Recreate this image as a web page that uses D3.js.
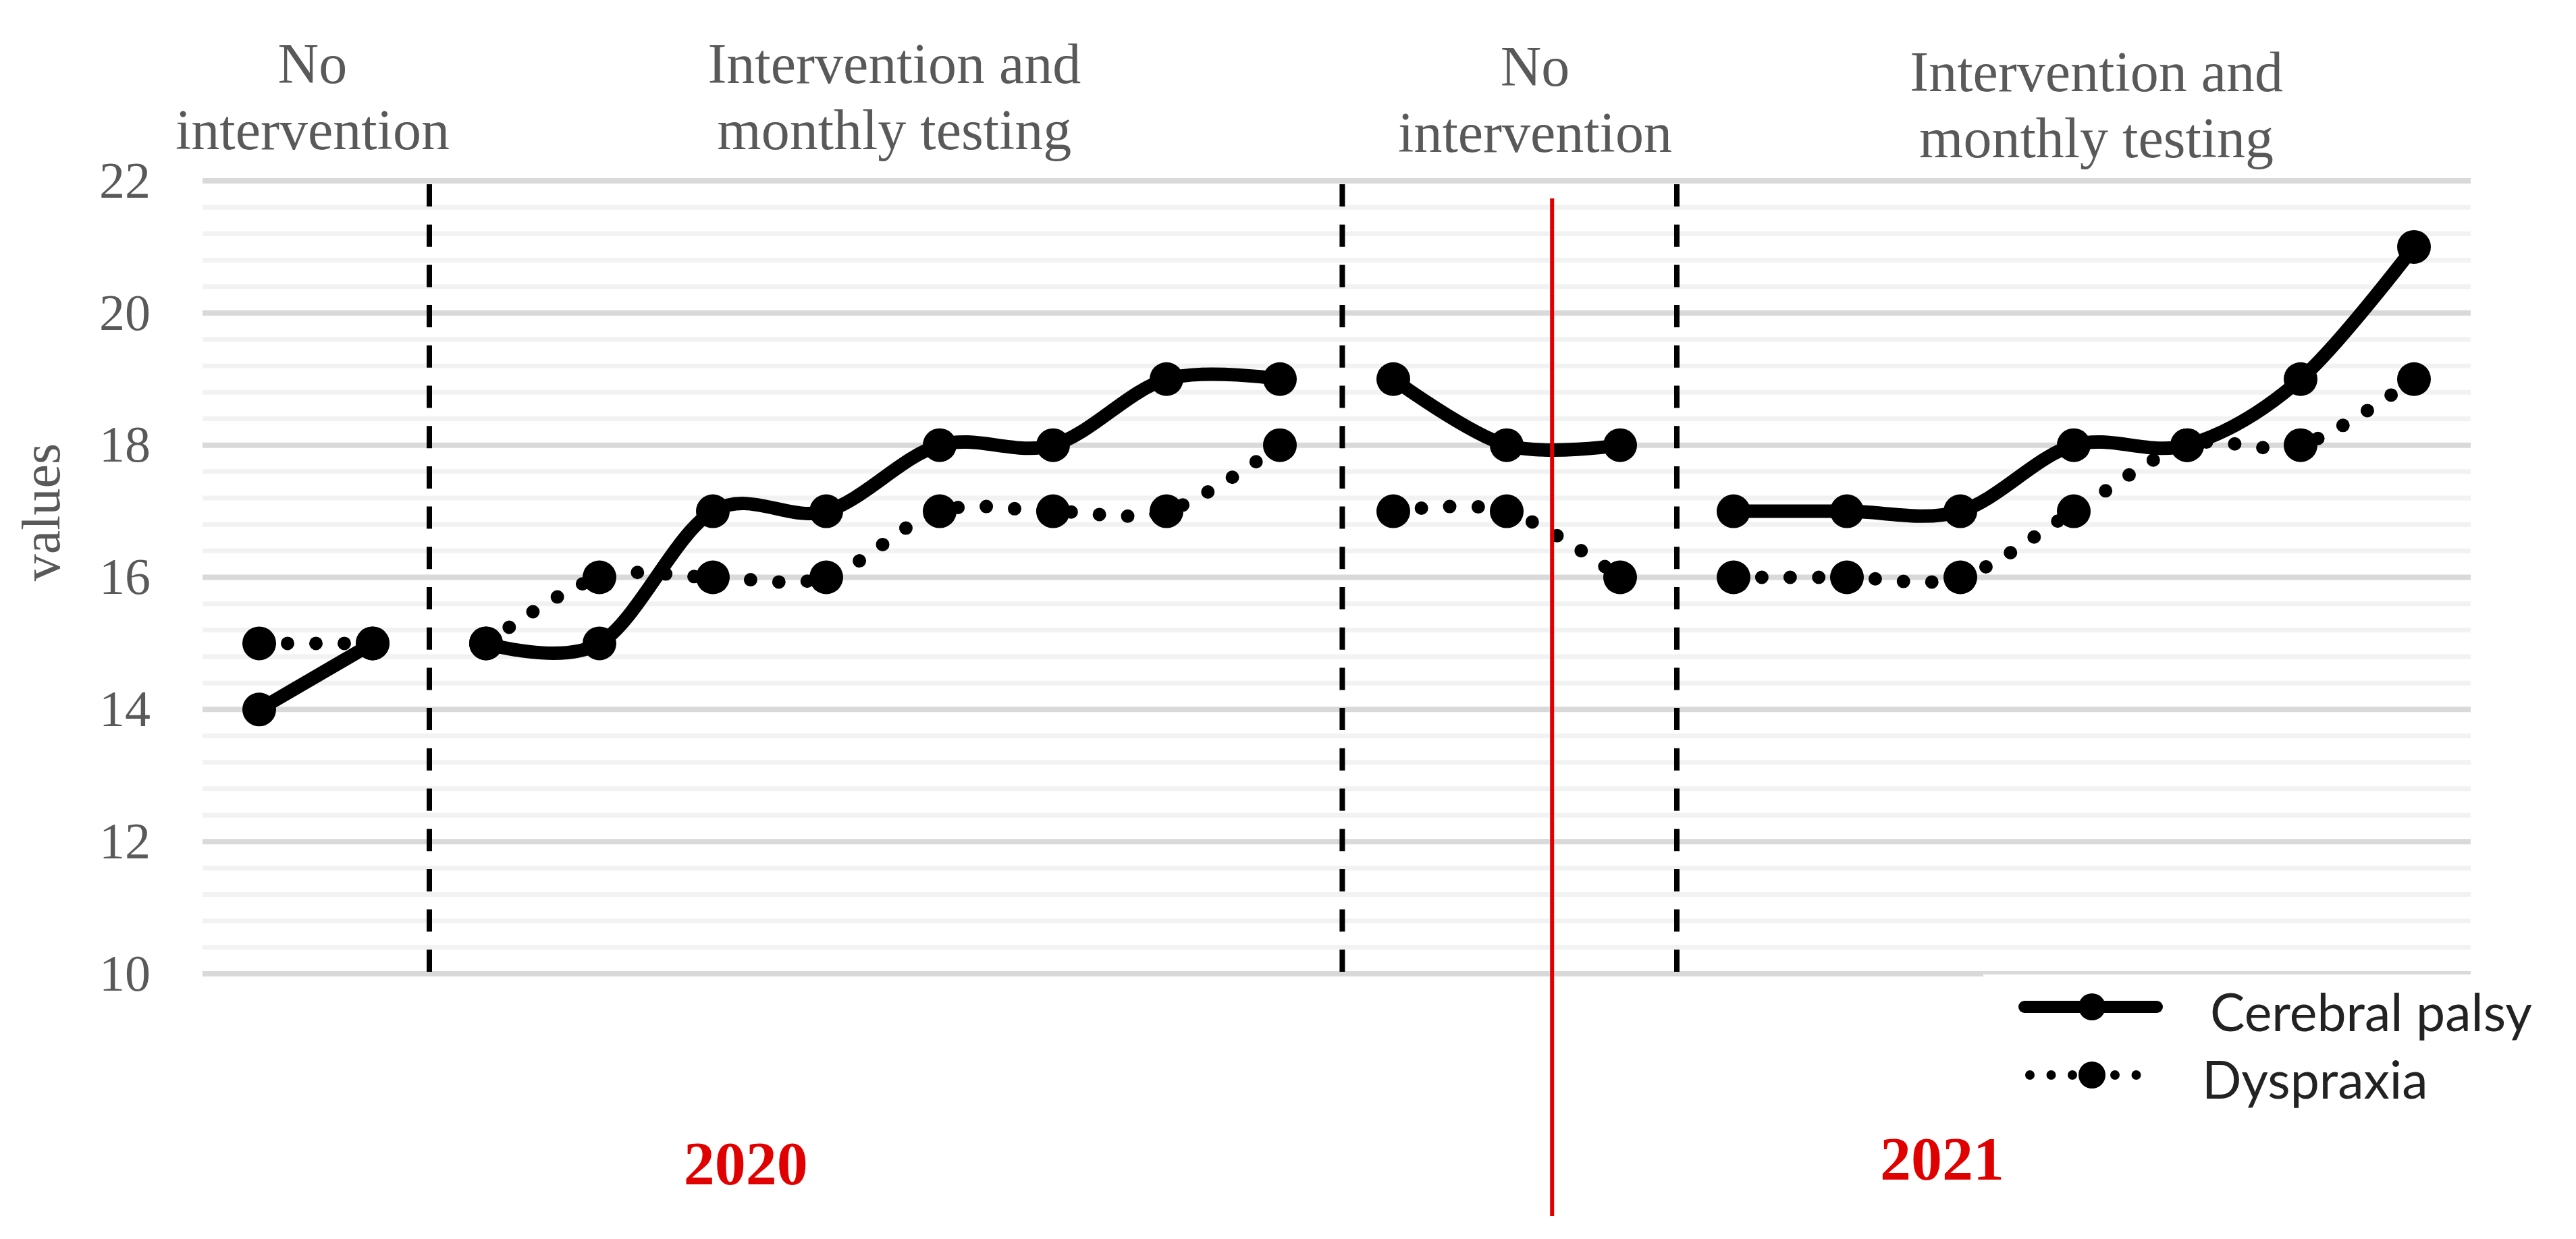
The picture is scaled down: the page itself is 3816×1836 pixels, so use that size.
<!DOCTYPE html>
<html>
<head>
<meta charset="utf-8">
<script src="https://cdnjs.cloudflare.com/ajax/libs/d3/7.8.5/d3.min.js"></script>
<style>
  html, body { margin: 0; padding: 0; background: #ffffff; }
  svg { display: block; }
</style>
</head>
<body>
<svg id="chart" width="3816" height="1836"></svg>
<script>
// donnees
var sessions = [1,2,3,4,5,6,7,8,9,10,11,12,13,14,15,16,17,18,19,20];
var phaseOf  = [0,0,1,1,1,1,1,1,1,1,2,2,2,3,3,3,3,3,3,3];
var cerebralPalsy = [14,15,15,15,17,17,18,18,19,19,19,18,18,17,17,17,18,18,19,21];
var dyspraxia     = [15,15,15,16,16,16,17,17,17,18,17,17,16,16,16,16,17,18,18,19];
var phaseTitles = [["No","intervention"],["Intervention and","monthly testing"],["No","intervention"],["Intervention and","monthly testing"]];
var yTicks = [10,12,14,16,18,20,22];
var years = ["2020","2021"];
var legendNames = ["Cerebral palsy","Dyspraxia"];

// mise en page (en unites de l'axe x : indice de seance)
var phaseBreaks = [1.5, 9.55, 12.5];
var yearBreak = 11.4;
var titlePos = [0.47, 5.6, 11.25, 16.2];
var titleBase = [123, 123, 127, 135];
var yearPos = [4.29, 14.84];
var yearBase = [1755, 1748];

var svg = d3.select("#chart");
svg.append("rect").attr("width",3816).attr("height",1836).attr("fill","#ffffff");

var x = d3.scaleLinear().domain([-0.5, sessions.length - 0.5]).range([300, 3660]);
var y = d3.scaleLinear().domain([10, 22]).range([1443, 268]);

// grille
var grid = svg.append("g");
var fins = d3.range(0, 31).map(function(i){ return 10 + i*0.4; });
grid.selectAll("line.mineur").data(fins.filter(function(v,i){ return i%5 != 0; }))
  .enter().append("line").attr("class","mineur")
  .attr("x1", x.range()[0]).attr("x2", x.range()[1])
  .attr("y1", function(d){ return y(d); }).attr("y2", function(d){ return y(d); })
  .attr("stroke","#f2f2f2").attr("stroke-width",7);
grid.selectAll("line.majeur").data(yTicks)
  .enter().append("line").attr("class","majeur")
  .attr("x1", x.range()[0]).attr("x2", x.range()[1])
  .attr("y1", function(d){ return y(d); }).attr("y2", function(d){ return y(d); })
  .attr("stroke","#d9d9d9").attr("stroke-width",8);

// axe y
var axe = svg.append("g").attr("transform","translate(300,0)")
  .call(d3.axisLeft(y).tickValues(yTicks).tickSize(0).tickPadding(77));
axe.select(".domain").remove();
axe.selectAll("text").attr("font-family","'Liberation Serif', 'Times New Roman', serif")
  .attr("font-size",76).attr("fill","#595959");

svg.append("text").attr("transform","translate(88,759) rotate(-90)")
  .attr("text-anchor","middle").attr("font-family","'Liberation Serif', serif")
  .attr("font-size",80).attr("fill","#595959").text("values");

// separations des phases
svg.selectAll("line.phase").data(phaseBreaks).enter().append("line").attr("class","phase")
  .attr("x1", function(d){ return x(d); }).attr("x2", function(d){ return x(d); })
  .attr("y1", 273).attr("y2", 1440)
  .attr("stroke","#000000").attr("stroke-width",8).attr("stroke-dasharray","33 26.7");

// titres des phases
phaseTitles.forEach(function(t, i){
  var tx = svg.append("text").attr("text-anchor","middle")
    .attr("font-family","'Liberation Serif', 'Times New Roman', serif")
    .attr("font-size",84).attr("fill","#595959");
  t.forEach(function(l, j){
    tx.append("tspan").attr("x", x(titlePos[i])).attr("y", titleBase[i] + j*98).text(l);
  });
});

// series
var courbe = d3.line()
  .x(function(d){ return x(d.i); })
  .y(function(d){ return y(d.v); })
  .curve(d3.curveCatmullRom.alpha(0));

function segments(vals){
  var segs = [];
  vals.forEach(function(v, i){
    var p = phaseOf[i];
    if(!segs[p]) segs[p] = [];
    segs[p].push({i: i, v: v});
  });
  return segs;
}

var series = [
  {vals: cerebralPalsy, dash: null},
  {vals: dyspraxia, dash: "0 42"}
];
series.slice().reverse().forEach(function(s){
  var g = svg.append("g");
  g.selectAll("path").data(segments(s.vals)).enter().append("path")
    .attr("d", courbe).attr("fill","none").attr("stroke","#000000")
    .attr("stroke-width",20).attr("stroke-linecap","round")
    .attr("stroke-dasharray", s.dash);
  g.selectAll("circle").data(s.vals).enter().append("circle")
    .attr("cx", function(d,i){ return x(i); }).attr("cy", function(d){ return y(d); })
    .attr("r",25).attr("fill","#000000");
});

// annee
svg.append("line").attr("x1", x(yearBreak)).attr("x2", x(yearBreak))
  .attr("y1",294).attr("y2",1802).attr("stroke","#e00000").attr("stroke-width",6);

svg.selectAll("text.annee").data(years).enter().append("text").attr("class","annee")
  .attr("x", function(d,i){ return x(yearPos[i]); }).attr("y", function(d,i){ return yearBase[i]; })
  .attr("text-anchor","middle").attr("font-family","'Liberation Serif', 'Times New Roman', serif")
  .attr("font-weight","bold").attr("font-size",92).attr("fill","#e00000").text(function(d){ return d; });

// legende
var leg = svg.append("g");
leg.append("rect").attr("x",2938).attr("y",1444).attr("width",878).attr("height",236).attr("fill","#ffffff");
var legY = [1492, 1593];
leg.append("line").attr("x1",2999).attr("x2",3195).attr("y1",legY[0]).attr("y2",legY[0])
  .attr("stroke","#000000").attr("stroke-width",18).attr("stroke-linecap","round");
leg.append("line").attr("x1",3007).attr("x2",3175).attr("y1",legY[1]).attr("y2",legY[1])
  .attr("stroke","#000000").attr("stroke-width",14).attr("stroke-linecap","round")
  .attr("stroke-dasharray","0 31.5");
leg.selectAll("circle").data(legY).enter().append("circle")
  .attr("cx",3099).attr("cy", function(d){ return d; }).attr("r",20).attr("fill","#000000");
leg.selectAll("text").data(legendNames).enter().append("text")
  .attr("x", function(d,i){ return i == 0 ? 3274 : 3262; })
  .attr("y", function(d,i){ return i == 0 ? 1528 : 1628; })
  .attr("font-family","Lato, 'Open Sans', sans-serif").attr("font-size",77)
  .attr("fill","#222222").text(function(d){ return d; });
</script>
</body>
</html>
